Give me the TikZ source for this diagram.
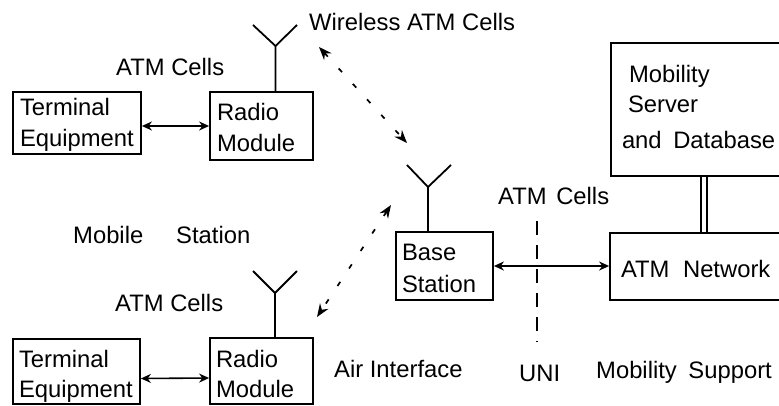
\documentclass[tikz,border=0pt]{standalone}
\usepackage{fontspec}
\setmainfont{Liberation Sans}
\usetikzlibrary{arrows.meta}
\tikzset{
  x=1pt,y=-1pt,
  every node/.style={font=\fontsize{23.8}{31}\selectfont,text=black},
  lbl/.style={anchor=base west,inner sep=0pt},
  blk/.style={draw=black,line width=1.8pt,inner sep=0pt,anchor=center},
  ant/.style={line width=1.8pt,line join=miter},
  link/.style={line width=1.6pt,{Stealth[length=10pt,width=9pt]}-{Stealth[length=10pt,width=9pt]}},
  air/.style={line width=1.7pt,dash pattern=on 5pt off 16pt,{Stealth[length=13pt,width=10pt]}-{Stealth[length=13pt,width=10pt]}},
  uni/.style={line width=1.8pt,dash pattern=on 14pt off 10pt},
}
% #1 left offset from the node centre, #2 last baseline below the node centre
\newcommand{\blktext}[3]{\raisebox{\dimexpr-#2pt\relax}[0pt][0pt]{\makebox[0pt][l]{\hspace*{#1pt}\begin{tabular}[b]{@{}l@{}}#3\end{tabular}}}}
\begin{document}
\begin{tikzpicture}
\useasboundingbox (0,0) rectangle (779,405);
% boxes
\node[blk,minimum width=128pt,minimum height=62pt] (t1) at (77,123) {\blktext{-57}{23}{Terminal\\Equipment}};
\node[blk,minimum width=103pt,minimum height=68pt] (r1) at (261.5,126) {\blktext{-44.5}{25}{Radio\\Module}};
\node[blk,minimum width=127pt,minimum height=65pt] (t2) at (76.5,371.5) {\blktext{-57.5}{25.5}{Terminal\\[-1pt]Equipment}};
\node[blk,minimum width=103pt,minimum height=66pt] (r2) at (261.5,371) {\blktext{-45.5}{26}{Radio\\[-1pt]Module}};
\node[blk,minimum width=97pt,minimum height=68pt] (bs) at (444.5,266) {\blktext{-42.5}{26}{Base\\[1pt]Station}};
\node[blk,minimum width=190pt,minimum height=133pt] (ms) at (706,109.5) {\blktext{-84}{38.5}{\hspace*{7pt}Mobility\\[-1pt]\hspace*{6pt}Server\\[5pt]and\hspace{5pt} Database}};
\node[blk,minimum width=190pt,minimum height=67pt] (an) at (705,266.5) {\blktext{-84}{10.5}{ATM\hspace{7pt} Network}};
% antennas
\coordinate (a1) at (275.5,46); \coordinate (a1l) at (253,25); \coordinate (a1r) at (297,25);
\coordinate (a2) at (275,293);  \coordinate (a2l) at (253,271); \coordinate (a2r) at (297,271);
\coordinate (a3) at (428,187);  \coordinate (a3l) at (407,165); \coordinate (a3r) at (451,165);
\draw[ant] (r1.north -| a1) -- (a1) (a1l) -- (a1) -- (a1r);
\draw[ant] (r2.north -| a2) -- (a2) (a2l) -- (a2) -- (a2r);
\draw[ant] (bs.north -| a3) -- (a3) (a3l) -- (a3) -- (a3r);
% links
\draw[link] (t1.east |- r1.west) -- (r1.west);
\draw[link] ([yshift=-7pt]t2.east) -- ([yshift=-7pt]r2.west);
\draw[link] (bs.east) -- (bs.east -| an.west);
% double line
\coordinate (dbl) at (704,200);
\draw[line width=1.8pt,double=white,double distance=3.6pt] (ms.south -| dbl) -- (an.north -| dbl);
% air interface
\coordinate (w1) at (319,47); \coordinate (w2) at (407,143);
\coordinate (w3) at (391,205); \coordinate (w4) at (317,317);
\draw[air] (w1) -- (w2);
\draw[air] (w3) -- (w4);
% UNI line
\coordinate (u1) at (537,221); \coordinate (u2) at (537,342);
\draw[uni] (u1) -- (u2);
% labels
\node[lbl] (l1) at (309,30) {Wireless ATM Cells};
\node[lbl] (l2) at (116,75) {ATM Cells};
\node[lbl] (l3) at (73,243) {Mobile};
\node[lbl] (l4) at (176,243) {Station};
\node[lbl] (l5) at (115,311) {ATM Cells};
\node[lbl] (l6) at (498,204) {ATM\hspace{3pt} Cells};
\node[lbl] (l7) at (334,377) {Air Interface};
\node[lbl] (l8) at (519,381) {UNI};
\node[lbl] (l9) at (596,378) {Mobility\hspace{5pt} Support};
\end{tikzpicture}
\end{document}
